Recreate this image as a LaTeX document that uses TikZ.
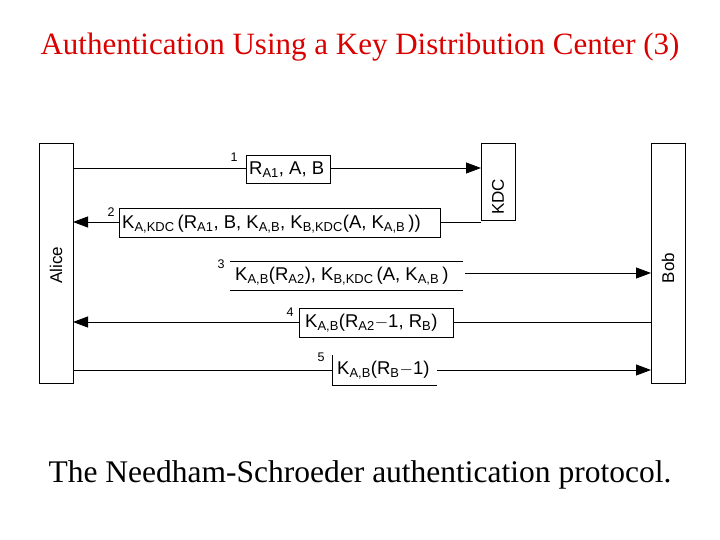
\documentclass[tikz,border=0pt]{standalone}
\usepackage{fontspec}
\setmainfont{Liberation Serif}
\newfontfamily\dsans{Liberation Sans}
\usetikzlibrary{arrows.meta}
\begin{document}
\begin{tikzpicture}[x=1pt,y=-1pt,
  party/.style={draw,line width=0.8pt,inner sep=0pt},
  msg/.style={line width=0.8pt},
  tip/.style={-{Triangle[length=15pt,width=11pt]}},
  lbl/.style={font=\dsans\fontsize{18.5}{20}\selectfont,inner sep=0pt,anchor=west},
  num/.style={font=\dsans\fontsize{12.5}{13}\selectfont,inner sep=0pt}]
\useasboundingbox (0,0) rectangle (720,540);
\node[font=\fontsize{31}{34}\selectfont,text=red!85!black] (title) at (360,47) {Authentication Using a Key Distribution Center (3)};
\node[font=\fontsize{31.5}{34}\selectfont] (cap) at (360,475) {The Needham-Schroeder authentication protocol.};
% parties
\draw[line width=0.8pt] (39,143) rectangle (73,383);
\node[font=\dsans\fontsize{17}{18}\selectfont,rotate=90] (alice) at (56,265) {Alice};
\draw[line width=0.8pt] (481,143) rectangle (515,220);
\node[font=\dsans\fontsize{17}{18}\selectfont,rotate=90] (kdc) at (498,197) {KDC};
\draw[line width=0.8pt] (651,143) rectangle (685,383);
\node[font=\dsans\fontsize{17}{18}\selectfont,rotate=90] (bob) at (668,268) {Bob};
% message 1
\draw[line width=0.8pt] (246,155) rectangle (330,183);
\node[lbl] (m1) at (249,170) {R\textsubscript{A1}, A, B};
\node[num] (n1) at (234,157) {1};
\draw[msg] (73,168) -- (246,168);
\draw[msg,tip] (330,168) -- (481,168);
% message 2
\draw[line width=0.8pt] (119,208) rectangle (440,237);
\node[lbl] (m2) at (122,224) {K\textsubscript{A,KDC}\,(R\textsubscript{A1}, B, K\textsubscript{A,B}, K\textsubscript{B,KDC}(A, K\textsubscript{A,B}\,))};
\node[num] (n2) at (111,212) {2};
\draw[msg] (481,222) -- (440,222);
\draw[msg,tip] (119,222) -- (73,222);
% message 3
\draw[line width=0.8pt] (230,261) -- (463,261);
\draw[line width=0.8pt] (230,290) -- (463,290);
\node[lbl] (m3) at (235,276) {K\textsubscript{A,B}(R\textsubscript{A2}), K\textsubscript{B,KDC}\,(A, K\textsubscript{A,B}\,)};
\node[num] (n3) at (221,264) {3};
\draw[msg,tip] (465,273) -- (651,273);
% message 4
\draw[line width=0.8pt] (299,308) rectangle (453,337);
\node[lbl] (m4) at (305,323) {K\textsubscript{A,B}(R\textsubscript{A2}$-$1, R\textsubscript{B})};
\node[num] (n4) at (290,312) {4};
\draw[msg] (651,322) -- (453,322);
\draw[msg,tip] (299,322) -- (73,322);
% message 5
\draw[line width=0.8pt] (332,355) -- (332,385) -- (437,385);
\node[lbl] (m5) at (337,370) {K\textsubscript{A,B}(R\textsubscript{B}$-$1)};
\node[num] (n5) at (321,357) {5};
\draw[msg] (73,370) -- (332,370);
\draw[msg,tip] (437,370) -- (651,370);
\end{tikzpicture}
\end{document}
